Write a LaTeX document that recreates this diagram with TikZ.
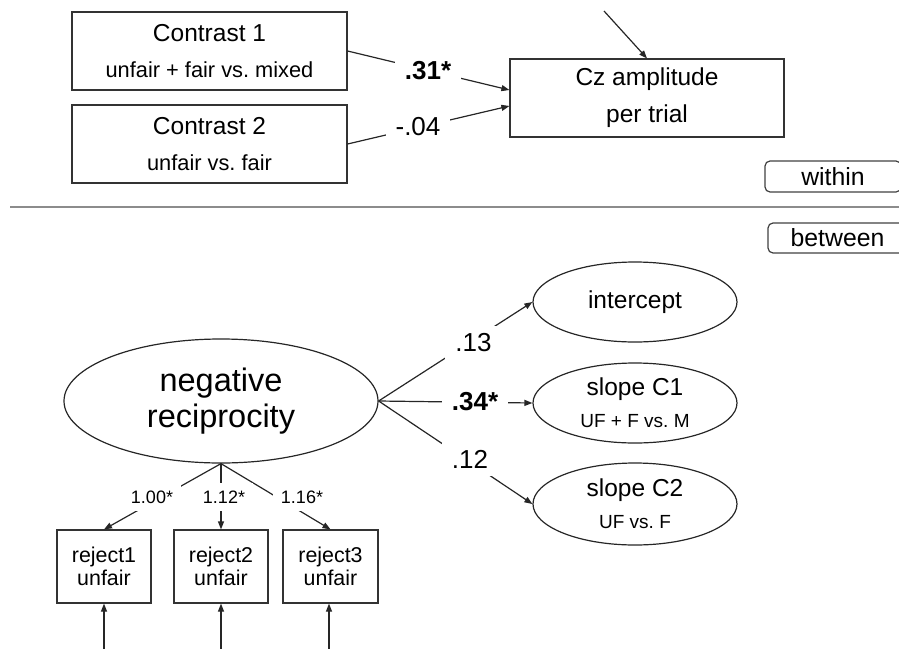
\documentclass[tikz,border=0pt]{standalone}
\usepackage{fontspec}
\setmainfont{Liberation Sans}
\usetikzlibrary{arrows.meta,shapes.geometric}

\tikzset{
  box/.style={draw=black!80, line width=1.2pt, rectangle, inner sep=0pt, align=center},
  latent/.style={draw=black!85, line width=1.2pt, ellipse, inner sep=0pt, align=center},
  level/.style={draw=black!75, line width=1.2pt, rounded corners=5pt, inner sep=0pt,
    font=\fontsize{24.8}{30}\selectfont},
  arr/.style={draw=black!85, line width=1.2pt, -{Triangle[length=8pt,width=6pt]}},
  coef/.style={fill=white, inner xsep=10pt, inner ysep=8pt, font=\fontsize{26}{30}\selectfont},
  load/.style={fill=white, inner sep=8pt, font=\fontsize{18}{22}\selectfont},
}

\begin{document}
\begin{tikzpicture}[x=1pt,y=-1pt]
\useasboundingbox (0,0) rectangle (899,648);
\clip (0,0) rectangle (899,648);

% within part
\node [box, minimum width=275pt, minimum height=78pt, font=\fontsize{24.5}{36}\selectfont] (c1) at (209.5,51)
  {Contrast 1\\{\fontsize{21.8}{36}\selectfont unfair + fair vs.\ mixed}};
\node [box, minimum width=275pt, minimum height=78pt, font=\fontsize{24.5}{36}\selectfont] (c2) at (209.5,144)
  {Contrast 2\\{\fontsize{21.8}{36}\selectfont unfair vs.\ fair}};
\node [box, minimum width=274pt, minimum height=78pt, font=\fontsize{24.5}{37}\selectfont] (cz) at (647,98)
  {Cz amplitude\\per trial};
\coordinate (rescz) at (604,11);

\node [level, minimum width=136pt, minimum height=31pt] (within) at (833,176.5) {within};
\draw [black!45, line width=2pt] (10,207) -- (899,207);
\node [level, minimum width=139pt, minimum height=30pt] (between) at (837.5,238) {between};

% between part
\node [latent, minimum width=314pt, minimum height=124pt, font=\fontsize{32.5}{36}\selectfont] (negrec) at (221,401)
  {negative\\reciprocity};
\node [latent, minimum width=204pt, minimum height=80pt, font=\fontsize{24.5}{32}\selectfont] (icpt) at (635,302)
  {intercept};
\node [latent, minimum width=204pt, minimum height=80pt, font=\fontsize{24.5}{32}\selectfont] (slope1) at (635,403)
  {slope C1\\{\fontsize{19}{32}\selectfont UF + F vs.\ M}};
\node [latent, minimum width=204pt, minimum height=82pt, font=\fontsize{24.5}{32}\selectfont] (slope2) at (635,504)
  {slope C2\\{\fontsize{19}{32}\selectfont UF vs.\ F}};

\node [box, minimum width=94pt, minimum height=73pt, font=\fontsize{21.4}{23.5}\selectfont] (rej1) at (104,566.5) {reject1\\unfair};
\node [box, minimum width=94pt, minimum height=73pt, font=\fontsize{21.4}{23.5}\selectfont] (rej2) at (221,566.5) {reject2\\unfair};
\node [box, minimum width=95pt, minimum height=73pt, font=\fontsize{21.4}{23.5}\selectfont] (rej3) at (330.5,566.5) {reject3\\unfair};
\coordinate (res1) at (104,660);
\coordinate (res2) at (221,660);
\coordinate (res3) at (329,660);

% paths
\draw [arr] (c1.east) -- ([yshift=8pt]cz.west);
\draw [arr] (c2.east) -- ([yshift=-8pt]cz.west);
\draw [arr] (rescz) -- (cz.north);

\draw [arr] (negrec.east) -- (icpt.west);
\draw [arr] (negrec.east) -- (slope1.west);
\draw [arr] (negrec.east) -- (slope2.west);

\draw [arr] (negrec.south) -- (rej1.north);
\draw [arr] (negrec.south) -- (rej2.north);
\draw [arr] (negrec.south) -- (rej3.north);

\draw [arr] (res1) -- (rej1.south);
\draw [arr] (res2) -- (rej2.south);
\draw [arr] (res3) -- (res3 |- rej3.south);

% coefficients
\node [coef] (b31) at (428,71) {\bfseries .31*};
\node [coef] (b04) at (418,127) {-.04};
\node [coef] (b13) at (473.5,343) {.13};
\node [coef] (b34) at (475,402) {\bfseries .34*};
\node [coef] (b12) at (470,459) {.12};

\node [load] (l100) at (152,497) {1.00*};
\node [load] (l112) at (224,497) {1.12*};
\node [load] (l116) at (302,497) {1.16*};

\end{tikzpicture}
\end{document}
